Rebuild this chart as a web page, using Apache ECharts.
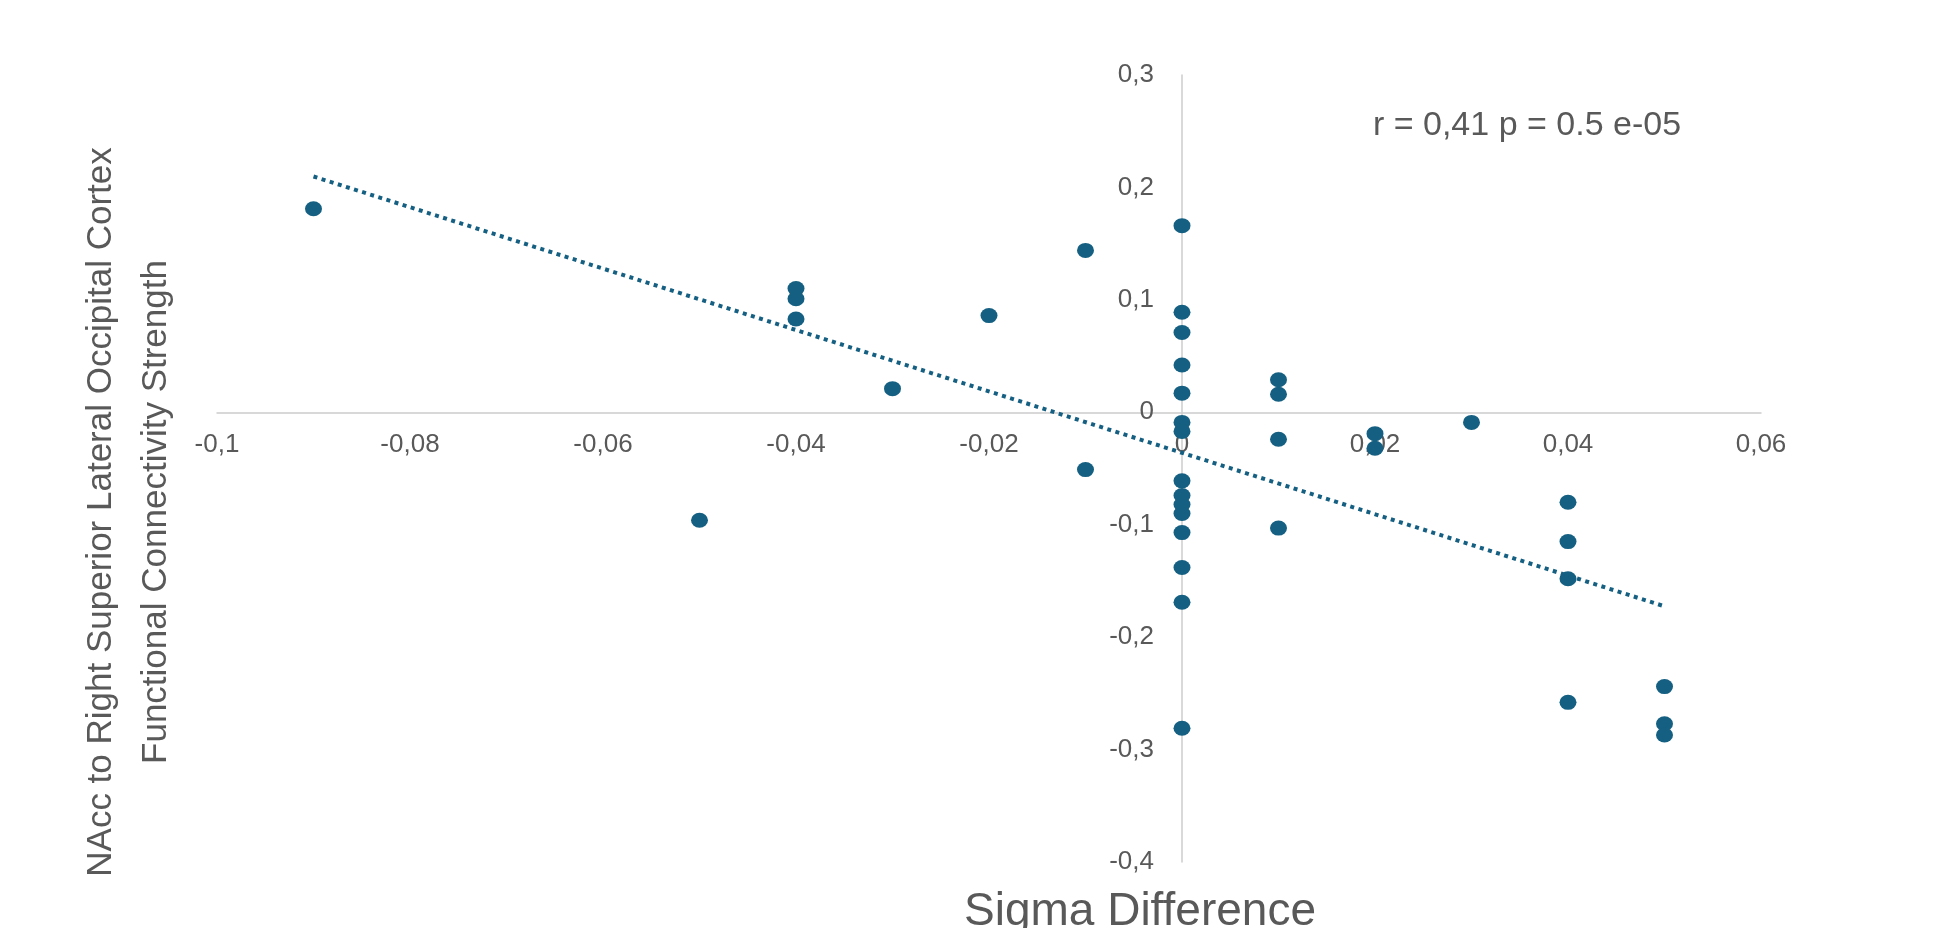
<!DOCTYPE html>
<html>
<head>
<meta charset="utf-8">
<script src="https://cdn.jsdelivr.net/npm/echarts@6/dist/echarts.min.js"></script>
<style>
html,body{margin:0;padding:0;background:#ffffff;}
#chart{width:1947px;height:928px;}
</style>
</head>
<body>
<div id="chart"></div>
<script>
// ---- data ----
const sigmaDifference = [
  -0.09, -0.05, -0.04, -0.04, -0.04, -0.03, -0.02, -0.01, -0.01,
  0, 0, 0, 0, 0, 0, 0, 0, 0, 0, 0, 0, 0, 0, 0,
  0.01, 0.01, 0.01, 0.01,
  0.02, 0.02,
  0.03,
  0.04, 0.04, 0.04, 0.04,
  0.05, 0.05, 0.05
];
const connectivityStrength = [
  0.181, -0.096, 0.110, 0.101, 0.083, 0.021, 0.086, 0.144, -0.051,
  0.166, 0.089, 0.071, 0.042, 0.017, -0.009, -0.017, -0.061, -0.074, -0.082, -0.090, -0.107, -0.138, -0.169, -0.281,
  0.029, 0.016, -0.024, -0.103,
  -0.019, -0.032,
  -0.009,
  -0.080, -0.115, -0.148, -0.258,
  -0.244, -0.277, -0.287
];
const xTicks = [-0.1, -0.08, -0.06, -0.04, -0.02, 0, 0.02, 0.04, 0.06];
const yTicks = [-0.4, -0.3, -0.2, -0.1, 0, 0.1, 0.2, 0.3];
const annotationText = 'r = 0,41 p = 0.5 e-05';
const xTitle = 'Sigma Difference';
const yTitle = 'NAcc to Right Superior Lateral Occipital Cortex\nFunctional Connectivity Strength';

// ---- build ----
const points = sigmaDifference.map((x, i) => [x, connectivityStrength[i]]);

// linear least-squares trendline from the data
const n = points.length;
const mx = sigmaDifference.reduce((a, b) => a + b, 0) / n;
const my = connectivityStrength.reduce((a, b) => a + b, 0) / n;
let sxy = 0, sxx = 0;
for (let i = 0; i < n; i++) {
  sxy += (sigmaDifference[i] - mx) * (connectivityStrength[i] - my);
  sxx += (sigmaDifference[i] - mx) * (sigmaDifference[i] - mx);
}
const slope = sxy / sxx;
const intercept = my - slope * mx;
const xLo = Math.min(...sigmaDifference), xHi = Math.max(...sigmaDifference);
const trend = [[xLo, intercept + slope * xLo], [xHi, intercept + slope * xHi]];

const fmt = v => String(Number(v.toFixed(4))).replace('.', ',');
const textColor = '#595959';
const markColor = '#156082';
const axisColor = '#cccccc';
const font = '"Liberation Sans", Arial, sans-serif';

// grid geometry; axes cross at zero, so shift each axis to the other's zero
const W = 1947, H = 928;
const grid = {left: 217, right: 186, top: 75, bottom: 66};
const gw = W - grid.left - grid.right, gh = H - grid.top - grid.bottom;
const xMin = xTicks[0], xMax = xTicks[xTicks.length - 1];
const yMin = yTicks[0], yMax = yTicks[yTicks.length - 1];
const xAxisOffset = -((0 - yMin) / (yMax - yMin)) * gh;
const yAxisOffset = -((0 - xMin) / (xMax - xMin)) * gw;

const chart = echarts.init(document.getElementById('chart'), null, {renderer: 'canvas'});
chart.setOption({
  animation: false,
  backgroundColor: '#ffffff',
  grid: Object.assign({outerBoundsMode: 'none'}, grid),
  xAxis: {
    type: 'value', position: 'bottom', offset: xAxisOffset,
    min: xMin, max: xMax, interval: 0.02,
    axisLine: {show: true, onZero: false, lineStyle: {color: axisColor, width: 1.5}},
    axisTick: {show: false},
    splitLine: {show: false},
    axisLabel: {margin: 20, color: textColor, fontSize: 26, fontFamily: font, formatter: fmt}
  },
  yAxis: {
    type: 'value', position: 'left', offset: yAxisOffset,
    min: yMin, max: yMax, interval: 0.1,
    axisLine: {show: true, onZero: false, lineStyle: {color: axisColor, width: 1.5}},
    axisTick: {show: false},
    splitLine: {show: false},
    axisLabel: {margin: 28, color: textColor, fontSize: 26, fontFamily: font, formatter: fmt}
  },
  graphic: [
    {type: 'text', x: 1527, y: 126, style: {text: annotationText, fill: textColor, font: '34px ' + font, textAlign: 'center', textVerticalAlign: 'middle'}},
    {type: 'text', x: 1140, y: 912, style: {text: xTitle, fill: textColor, font: '46px ' + font, textAlign: 'center', textVerticalAlign: 'middle'}},
    {type: 'text', x: 129, y: 512, rotation: Math.PI / 2, style: {text: yTitle, fill: textColor, font: '35px ' + font, lineHeight: 55, textAlign: 'center', textVerticalAlign: 'middle'}}
  ],
  series: [
    {
      type: 'scatter',
      data: points,
      symbol: 'circle',
      symbolSize: [17, 15],
      itemStyle: {color: markColor, opacity: 1},
      z: 3
    },
    {
      type: 'line',
      data: trend,
      showSymbol: false,
      symbol: 'none',
      lineStyle: {color: markColor, width: 4, type: [4, 4.5], cap: 'butt'},
      z: 4
    }
  ]
});
</script>
</body>
</html>
